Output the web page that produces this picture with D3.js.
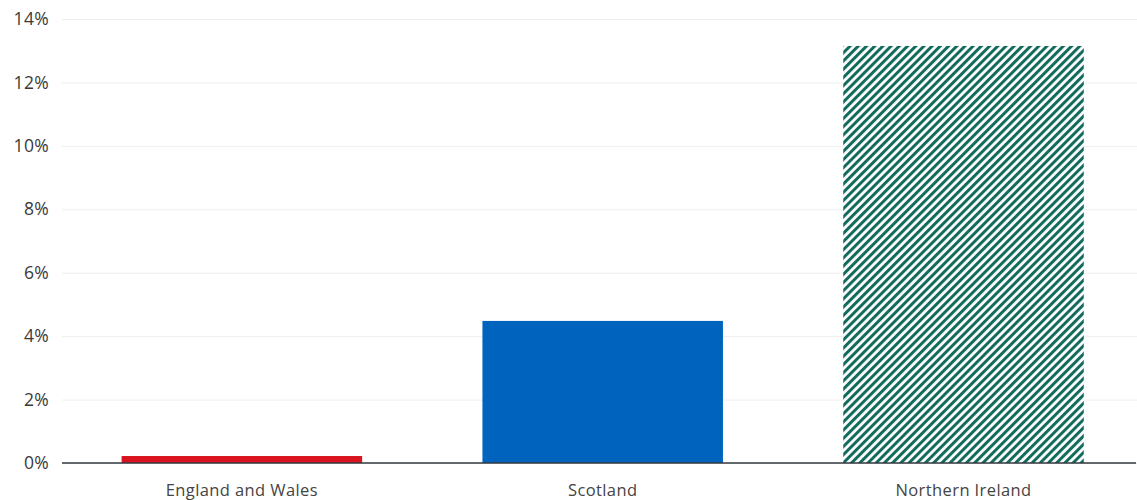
<!DOCTYPE html>
<html>
<head>
<meta charset="utf-8">
<script src="https://cdn.jsdelivr.net/npm/d3@7"></script>
<style>
  html, body { margin: 0; padding: 0; background: #fff; }
  svg { display: block; }
  .tick text { font-family: "Open Sans", sans-serif; }
</style>
</head>
<body>
<svg id="chart" width="1137" height="500"></svg>
<script>
// Share by nation (%)
const categories = ["England and Wales", "Scotland", "Northern Ireland"];
const values = [0.22, 4.48, 13.15];
const yTicks = [0, 2, 4, 6, 8, 10, 12, 14];
const yTickLabels = ["0%", "2%", "4%", "6%", "8%", "10%", "12%", "14%"];

const width = 1137, height = 500;
const margin = { top: 19, right: 1, bottom: 37, left: 62 };

const svg = d3.select("#chart");

// Diagonal hatch fill for the last bar
const defs = svg.append("defs");
const pat = defs.append("pattern")
  .attr("id", "hatch")
  .attr("patternUnits", "userSpaceOnUse")
  .attr("width", 5.8)
  .attr("height", 5.8)
  .attr("patternTransform", "rotate(45)");
pat.append("rect").attr("width", 5.8).attr("height", 5.8).attr("fill", "#fff");
pat.append("line")
  .attr("x1", 1.5).attr("y1", 0).attr("x2", 1.5).attr("y2", 5.8)
  .attr("stroke", "#126b5d").attr("stroke-width", 3);

const fills = ["#d9141e", "#0063be", "url(#hatch)"];

const x = d3.scaleBand()
  .domain(categories)
  .range([margin.left, width - margin.right])
  .paddingInner(0.3334)
  .paddingOuter(0.155)
  .align(0.533);

const y = d3.scaleLinear()
  .domain([0, 14])
  .range([height - margin.bottom, margin.top]);

// Horizontal gridlines and y labels
const yAxis = d3.axisLeft(y)
  .tickValues(yTicks)
  .tickFormat((d, i) => yTickLabels[i])
  .tickSize(-(width - margin.left))
  .tickPadding(13);

const gy = svg.append("g")
  .attr("transform", `translate(${margin.left},0)`)
  .call(yAxis);
gy.select(".domain").remove();
gy.selectAll(".tick line").attr("stroke", "#eeeeee").attr("stroke-width", 1);
gy.selectAll(".tick text")
  .attr("font-size", 17.5)
  .attr("letter-spacing", 0.3)
  .attr("fill", "#3a3a3a");

// Bars
svg.append("g")
  .selectAll("rect")
  .data(categories)
  .join("rect")
  .attr("x", d => x(d))
  .attr("width", x.bandwidth())
  .attr("y", (d, i) => y(values[i]))
  .attr("height", (d, i) => y(0) - y(values[i]))
  .attr("fill", (d, i) => fills[i]);

// Baseline and category labels
const xAxis = d3.axisBottom(x).tickSize(0).tickPadding(21);
const gx = svg.append("g")
  .attr("transform", `translate(0,${y(0)})`)
  .call(xAxis);
gx.select(".domain")
  .attr("stroke", "#333a40")
  .attr("stroke-width", 1.5)
  .attr("d", `M${margin.left},0H${width - margin.right}`);
gx.selectAll(".tick text")
  .attr("font-size", 16.5)
  .attr("letter-spacing", 0.4)
  .attr("fill", "#444");
</script>
</body>
</html>
